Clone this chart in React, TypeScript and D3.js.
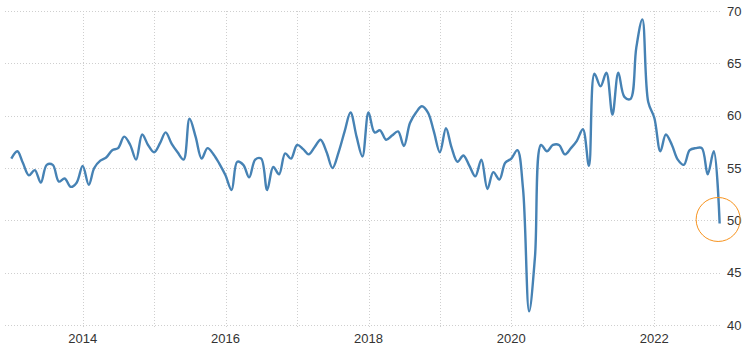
import * as d3 from "d3";
import { useEffect, useRef } from "react";

// monthly values, Jan 2013 .. Dec 2022
const startYear = 2013;
const values = [
  55.9, 56.6, 55.5, 54.3, 54.8, 53.6, 55.3, 55.3, 53.7, 54.0, 53.2, 53.6,
  55.2, 53.4, 55.0, 55.7, 56.0, 56.7, 56.9, 58.0, 57.2, 55.8, 58.2, 57.2,
  56.5, 57.4, 58.4, 57.3, 56.5, 55.8, 59.7, 58.0, 55.9, 56.9, 56.3, 55.4,
  54.3, 52.9, 55.6, 55.3, 54.1, 55.8, 55.9, 52.9, 55.1, 54.4, 56.4, 55.9,
  57.2, 56.8, 56.3, 57.0, 57.7, 56.5, 55.0, 56.5, 58.5, 60.3, 58.0, 56.1,
  60.3, 58.4, 58.6, 57.7, 58.1, 58.5, 57.1, 59.3, 60.3, 60.9, 60.3, 58.5,
  56.5, 58.8, 57.0, 55.6, 56.2, 55.2, 54.2, 55.8, 53.0, 54.6, 53.9, 55.5,
  55.9, 56.7, 53.0, 41.3, 46.5, 57.2, 56.6, 57.2, 57.2, 56.3, 56.9, 57.6,
  58.7, 55.2, 64.0, 62.8, 64.1, 60.1, 64.1, 61.8, 61.6, 66.5, 69.2, 61.3,
  59.8, 56.6, 58.2, 57.2, 55.8, 55.3, 56.7, 56.9, 56.9, 54.4, 56.6, 49.7,
];
const yTicks = [40, 45, 50, 55, 60, 65, 70];
const xTickYears = [2014, 2016, 2018, 2020, 2022];
const gridYears = [2014, 2015, 2016, 2017, 2018, 2019, 2020, 2021, 2022];

export default function App() {
  const ref = useRef<SVGSVGElement>(null);

  useEffect(() => {
    if (!ref.current) return;
    document.body.style.margin = "0";
    const el = ref.current;
    d3.select(el).selectAll("*").remove();

    const W = 749;
    const H = 353;
    const left = 5;
    const right = 722;
    const top = 11;
    const bottom = 325;

    const data = values.map((v, i) => ({ date: new Date(startYear, i, 1), value: v }));

    const svg = d3.select(el).attr("width", W).attr("height", H).attr("viewBox", `0 0 ${W} ${H}`);

    const x = d3
      .scaleTime()
      .domain([new Date(2014, 0, 1), new Date(2022, 0, 1)])
      .range([82.7, 654.3]);
    const y = d3.scaleLinear().domain([40, 70]).range([bottom, top]);

    const font = "'Liberation Sans', Arial, sans-serif";

    // horizontal grid
    svg
      .selectAll(".hgrid")
      .data(yTicks)
      .join("line")
      .attr("x1", left)
      .attr("x2", right)
      .attr("y1", d => Math.round(y(d)) + 0.5)
      .attr("y2", d => Math.round(y(d)) + 0.5)
      .attr("stroke", "#cfcfcf")
      .attr("stroke-dasharray", "1,2");

    // vertical grid
    svg
      .selectAll(".vgrid")
      .data(gridYears)
      .join("line")
      .attr("x1", d => Math.round(x(new Date(d, 0, 1))) + 0.5)
      .attr("x2", d => Math.round(x(new Date(d, 0, 1))) + 0.5)
      .attr("y1", top)
      .attr("y2", bottom + 4)
      .attr("stroke", "#cfcfcf")
      .attr("stroke-dasharray", "1,2");

    // y labels
    svg
      .selectAll(".ylab")
      .data(yTicks)
      .join("text")
      .attr("x", 727)
      .attr("y", d => y(d) + 4.5)
      .attr("fill", "#333")
      .attr("font-family", font)
      .attr("font-size", 13)
      .text(d => d);

    // x labels
    svg
      .selectAll(".xlab")
      .data(xTickYears)
      .join("text")
      .attr("x", d => x(new Date(d, 0, 1)))
      .attr("y", 343)
      .attr("text-anchor", "middle")
      .attr("fill", "#333")
      .attr("font-family", font)
      .attr("font-size", 13)
      .text(d => d);

    const line = d3
      .line<{ date: Date; value: number }>()
      .x(d => x(d.date))
      .y(d => y(d.value))
      .curve(d3.curveCatmullRom.alpha(0.5));

    svg
      .append("path")
      .datum(data)
      .attr("d", line)
      .attr("fill", "none")
      .attr("stroke", "#4682b4")
      .attr("stroke-width", 2.4)
      .attr("stroke-linejoin", "round");

    // highlight last value
    const last = data[data.length - 1];
    svg
      .append("circle")
      .attr("cx", x(last.date) - 1.5)
      .attr("cy", y(last.value) - 4)
      .attr("r", 22)
      .attr("fill", "none")
      .attr("stroke", "#f7931e")
      .attr("stroke-width", 1);
  }, []);

  return <svg ref={ref} style={{ display: "block" }} />;
}
